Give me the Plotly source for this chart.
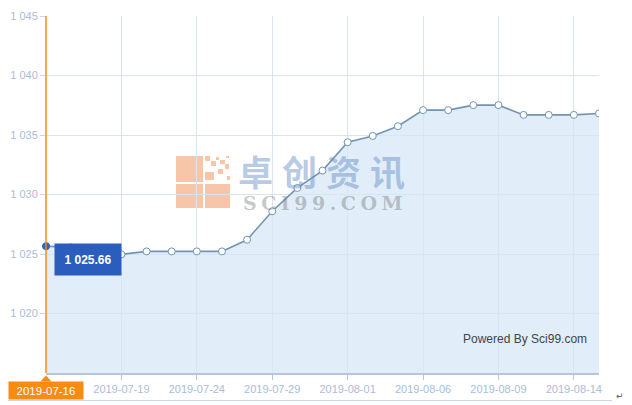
import plotly.graph_objects as go

# ---------------- data ----------------
dates = ["2019-07-16", "2019-07-17", "2019-07-18", "2019-07-19", "2019-07-22",
         "2019-07-23", "2019-07-24", "2019-07-25", "2019-07-26", "2019-07-29",
         "2019-07-30", "2019-07-31", "2019-08-01", "2019-08-02", "2019-08-05",
         "2019-08-06", "2019-08-07", "2019-08-08", "2019-08-09", "2019-08-12",
         "2019-08-13", "2019-08-14", "2019-08-15"]
prices = [1025.66, 1025.55, 1025.3, 1024.97, 1025.22, 1025.22, 1025.22, 1025.22,
          1026.2, 1028.59, 1030.55, 1032.01, 1034.39, 1034.92, 1035.74, 1037.09,
          1037.09, 1037.51, 1037.51, 1036.69, 1036.69, 1036.69, 1036.81]
y_ticks = [1020, 1025, 1030, 1035, 1040, 1045]
x_ticks = dates[3::3]
hover_idx = 0

# ---------------- layout helpers ----------------
OFF = 8  # page body margin
W, H = 632 - OFF, 405 - OFF
L, T = 46 - OFF, 16 - OFF
R = W - (599 - OFF)
B = H - (373 - OFF)
PW, PH = W - L - R, H - T - B


def px(x):
    """screen x (px) -> paper"""
    return (x - OFF - L) / PW


def py(y):
    """screen y (px) -> paper"""
    return (H - B - (y - OFF)) / PH


LINE = "#7393b3"
GRID = "#d8e4f0"
AXIS = "#b3c7df"
LABEL = "#aabdd5"
ORANGE = "#f98a12"

fig = go.Figure()
fig.add_trace(go.Scatter(
    x=dates, y=prices, mode="lines+markers",
    line=dict(color=LINE, width=1.6),
    fill="tozeroy", fillcolor="rgba(214,230,246,0.72)",
    marker=dict(size=7, color="white", line=dict(color=LINE, width=1)),
    hoverinfo="skip", showlegend=False,
))
fig.add_trace(go.Scatter(
    x=[dates[hover_idx]], y=[prices[hover_idx]], mode="markers",
    marker=dict(size=7, color="#2f62c0", line=dict(color="#2f62c0", width=1)),
    hoverinfo="skip", showlegend=False, cliponaxis=False,
))

shapes = []
# hover crosshair
shapes.append(dict(type="line", xref="paper", yref="paper", x0=0, x1=0, y0=0, y1=1,
                   line=dict(color=ORANGE, width=1.5), layer="above"))
# pointer triangle of date label
shapes.append(dict(type="path", xref="paper", yref="paper",
                   path=f"M {px(40.5)} {py(381.5)} L {px(46)} {py(375.5)} L {px(51.5)} {py(381.5)} Z",
                   fillcolor=ORANGE, line=dict(width=0), layer="above"))
# bottom frame line
shapes.append(dict(type="line", xref="paper", yref="paper", x0=px(8), x1=px(612),
                   y0=py(400.5), y1=py(400.5), line=dict(color="#c9d5e3", width=1)))
# watermark logo
LOGO = "rgba(240,140,80,0.5)"
logo_rects = [(176, 156, 203, 182), (176, 184, 203, 208), (205, 184, 230, 208),
              (205, 156, 210, 161), (211, 161, 216, 166), (216, 157, 219, 160),
              (220, 160, 225, 164), (226, 156, 229, 158), (205, 172, 214, 180),
              (218, 169, 223, 174), (225, 164, 229, 169), (227, 176, 230, 180)]
for (x0, y0, x1, y1) in logo_rects:
    shapes.append(dict(type="rect", xref="paper", yref="paper",
                       x0=px(x0), x1=px(x1), y0=py(y1), y1=py(y0),
                       fillcolor=LOGO, line=dict(width=0), layer="below"))

annotations = []
# tooltip
val_txt = f"{prices[hover_idx]:,.2f}".replace(",", " ")
annotations.append(dict(
    xref="paper", x=px(54), xanchor="left", yref="y", y=prices[hover_idx],
    yanchor="top", yshift=3.5, text=f"<b>{val_txt}</b>", showarrow=False,
    bgcolor="#2b5dbf", font=dict(color="white", size=12, family="Liberation Sans"),
    width=60, height=25, borderpad=3, align="center", valign="middle"))
# date label of hover
annotations.append(dict(
    xref="paper", x=0, xanchor="center", yref="paper", y=py(381), yanchor="top",
    text=dates[hover_idx], showarrow=False, bgcolor=ORANGE,
    font=dict(color="white", size=11.5, family="Liberation Sans"),
    width=70, height=13, borderpad=2))
# watermark text
annotations.append(dict(
    xref="paper", x=px(326), yref="paper", y=py(170), xanchor="center", yanchor="middle",
    text='<span style="letter-spacing:9px"><b>卓创资讯</b></span>', showarrow=False,
    font=dict(size=35, color="rgba(95,138,195,0.45)", family="Noto Sans CJK SC")))
annotations.append(dict(
    xref="paper", x=px(325), yref="paper", y=py(203), xanchor="center", yanchor="middle",
    text='<span style="letter-spacing:4.5px"><b>SCI99.COM</b></span>', showarrow=False,
    font=dict(size=19, color="rgba(110,110,110,0.38)", family="DejaVu Serif")))
# credit
annotations.append(dict(
    xref="paper", x=px(525), yref="paper", y=py(339), xanchor="center", yanchor="middle",
    text="Powered By Sci99.com", showarrow=False,
    font=dict(size=12, color="#444444", family="Liberation Sans")))
annotations.append(dict(
    xref="paper", x=px(620), yref="paper", y=py(396), xanchor="center", yanchor="middle",
    text="↵", showarrow=False, font=dict(size=9, color="#555555", family="DejaVu Sans")))

fig.update_layout(
    width=W, height=H,
    margin=dict(l=L, r=R, t=T, b=B, autoexpand=False),
    paper_bgcolor="white", plot_bgcolor="rgba(0,0,0,0)",
    separators=". ",
    font=dict(family="Liberation Sans", size=11, color=LABEL),
    shapes=shapes, annotations=annotations,
    xaxis=dict(type="category", range=[0, len(dates) - 1],
               tickvals=x_ticks, ticktext=x_ticks,
               showgrid=True, gridcolor=GRID, gridwidth=1,
               showline=True, linecolor=AXIS, linewidth=2,
               ticks="outside", ticklen=5, tickcolor=AXIS, tickwidth=1,
               tickfont=dict(size=11, color=LABEL), zeroline=False, fixedrange=True),
    yaxis=dict(range=[1015, 1045], tickvals=y_ticks, tickformat=",",
               showgrid=True, gridcolor=GRID, gridwidth=1,
               showline=False, ticks="outside", ticklen=5, tickcolor="#c9d7e8",
               tickfont=dict(size=11, color=LABEL), zeroline=False, fixedrange=True),
)

fig.write_html("out.html")
